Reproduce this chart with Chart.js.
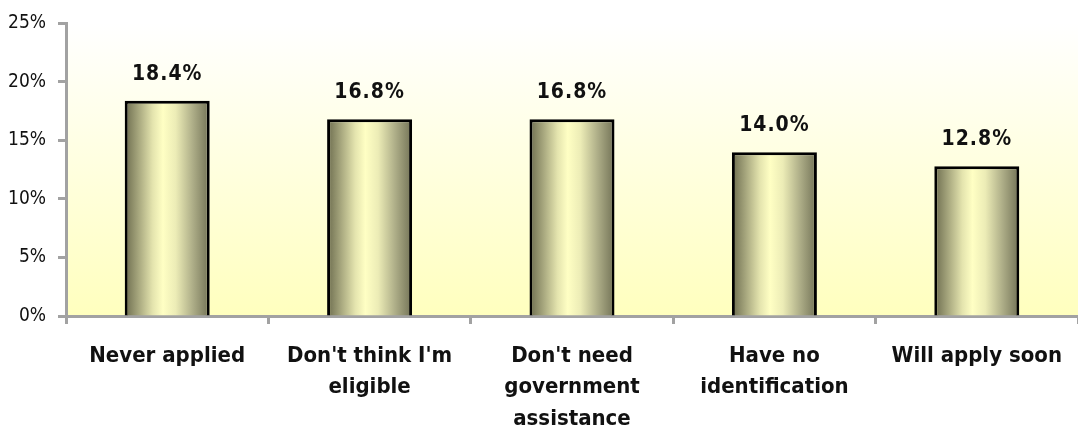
<!DOCTYPE html>
<html>
<head>
<meta charset="utf-8">
<script src="https://cdn.jsdelivr.net/npm/chart.js@4"></script>
<style>
  html, body { margin: 0; padding: 0; background: #fff; }
  #wrap { width: 1078px; height: 432px; }
</style>
</head>
<body>
<div id="wrap"><canvas id="chart"></canvas></div>
<script>
const categories = [
    'Never applied',
    ["Don't think I'm", 'eligible'],
    ["Don't need", 'government', 'assistance'],
    ['Have no', 'identification'],
    'Will apply soon'
]
const values = [18.4, 16.8, 16.8, 14.0, 12.8]
const yTicks = [0, 5, 10, 15, 20, 25]

const axisGray = '#a2a2a2'
const textColor = '#111111'
const labelFont = "'DejaVu Sans Condensed', 'Liberation Sans', sans-serif"

// cylinder-like shading across each bar
const barFill = (c) => {
    const chart = c.chart
    const xs = chart.scales.x
    if (!xs || !chart.chartArea) return '#d8d8a0'
    const cx = xs.getPixelForValue(c.dataIndex)
    const w = (xs.width / categories.length) * 0.42
    const g = chart.ctx.createLinearGradient(cx - w / 2, 0, cx + w / 2, 0)
    g.addColorStop(0, '#6c6c4e')
    g.addColorStop(0.15, '#a2a27a')
    g.addColorStop(0.33, '#e4e4ae')
    g.addColorStop(0.45, '#ffffc4')
    g.addColorStop(0.6, '#ececb6')
    g.addColorStop(0.8, '#aeae88')
    g.addColorStop(1, '#727256')
    return g
}

const plotBackground = {
    id: 'plotBackground',
    beforeDraw(chart) {
        const { ctx, chartArea: a } = chart
        const g = ctx.createLinearGradient(0, a.top, 0, a.bottom)
        g.addColorStop(0, '#ffffff')
        g.addColorStop(1, '#ffffbe')
        ctx.save()
        ctx.fillStyle = g
        ctx.fillRect(a.left, a.top, a.right - a.left, a.bottom - a.top)
        ctx.restore()
    }
}

const valueLabels = {
    id: 'valueLabels',
    afterDatasetsDraw(chart) {
        const ctx = chart.ctx
        const meta = chart.getDatasetMeta(0)
        ctx.save()
        ctx.font = "bold 21px " + labelFont
        ctx.fillStyle = textColor
        ctx.textAlign = 'center'
        ctx.textBaseline = 'alphabetic'
        if ('letterSpacing' in ctx) ctx.letterSpacing = '1px'
        meta.data.forEach((bar, i) => {
            ctx.fillText(values[i].toFixed(1) + '%', bar.x, bar.y - 21)
        })
        ctx.restore()
    }
}

new Chart(document.getElementById('chart').getContext('2d'), {
    type: 'bar',
    data: {
        labels: categories,
        datasets: [{
            data: values,
            backgroundColor: barFill,
            borderColor: '#000000',
            borderWidth: 3,
            barPercentage: 0.42,
            categoryPercentage: 1
        }]
    },
    options: {
        responsive: true,
        maintainAspectRatio: false,
        animation: false,
        layout: { padding: { top: 16, right: 0, bottom: 0, left: 0 } },
        plugins: {
            legend: { display: false },
            tooltip: { enabled: false }
        },
        scales: {
            x: {
                grid: {
                    display: true,
                    offset: true,
                    drawOnChartArea: false,
                    drawTicks: true,
                    tickLength: 8,
                    tickWidth: 3,
                    tickColor: axisGray
                },
                border: { color: axisGray, width: 3 },
                ticks: {
                    color: textColor,
                    maxRotation: 0,
                    autoSkip: false,
                    padding: 16,
                    font: { family: labelFont, size: 22, weight: 'bold', lineHeight: 1.44 }
                },
                afterFit: (s) => { s.height = 116 }
            },
            y: {
                min: 0,
                max: 25,
                afterBuildTicks: (s) => { s.ticks = yTicks.map(v => ({ value: v })) },
                grid: {
                    display: true,
                    drawOnChartArea: false,
                    drawTicks: true,
                    tickLength: 8,
                    tickWidth: 3,
                    tickColor: axisGray
                },
                border: { color: axisGray, width: 3 },
                ticks: {
                    color: textColor,
                    padding: 12,
                    font: { family: labelFont, size: 19 },
                    callback: (v) => v + '%'
                },
                afterFit: (s) => { s.width = 66 }
            }
        }
    },
    plugins: [plotBackground, valueLabels]
})
</script>
</body>
</html>
